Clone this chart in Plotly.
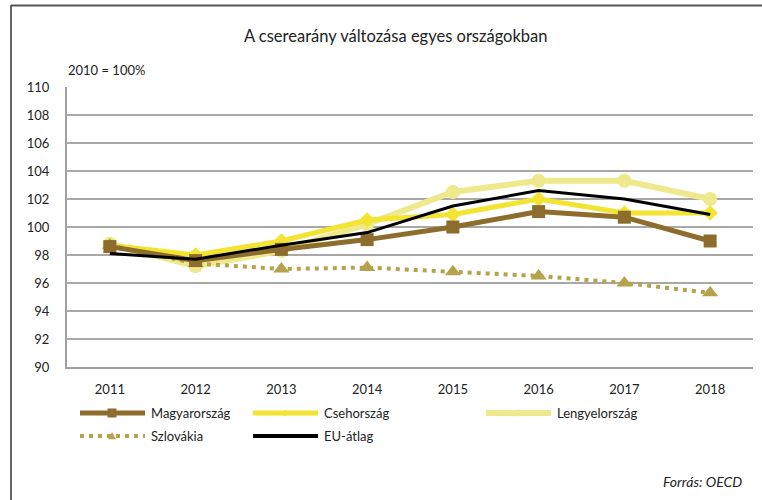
import plotly.graph_objects as go

# Terms-of-trade index by country, 2010 = 100%
years = ["2011", "2012", "2013", "2014", "2015", "2016", "2017", "2018"]
magyarorszag = [98.6, 97.6, 98.4, 99.1, 100.0, 101.1, 100.7, 99.0]
csehorszag = [98.7, 98.0, 99.0, 100.5, 100.9, 102.0, 101.0, 101.0]
lengyelorszag = [98.8, 97.2, 98.3, 100.2, 102.5, 103.3, 103.3, 102.0]
szlovakia = [98.7, 97.4, 97.0, 97.1, 96.8, 96.5, 96.0, 95.3]
eu_atlag = [98.1, 97.7, 98.7, 99.6, 101.5, 102.6, 102.0, 100.9]
y_ticks = [90, 92, 94, 96, 98, 100, 102, 104, 106, 108, 110]

FONT = "Lato"
BROWN = "#8c6d2c"
YELLOW = "#f2e431"
PALE = "#eee98c"
OLIVE = "#b6a24a"
BLACK = "#000000"

W, H = 762, 500
L, R, T, B = 67, 9, 87, 133

series = [
    dict(name="Lengyelország", y=lengyelorszag, color=PALE, width=6,
         dash="solid", symbol="circle", size=14),
    dict(name="Csehország", y=csehorszag, color=YELLOW, width=5,
         dash="solid", symbol="diamond", size=12),
    dict(name="Szlovákia", y=szlovakia, color=OLIVE, width=4,
         dash="4px,5px", symbol="triangle-up", size=14),
    dict(name="Magyarország", y=magyarorszag, color=BROWN, width=5,
         dash="solid", symbol="square", size=13),
    dict(name="EU-átlag", y=eu_atlag, color=BLACK, width=3,
         dash="solid", symbol=None, size=0),
]

fig = go.Figure()
for s in series:
    fig.add_trace(go.Scatter(
        x=years, y=s["y"], name=s["name"],
        mode="lines+markers" if s["symbol"] else "lines",
        line=dict(color=s["color"], width=s["width"], dash=s["dash"]),
        marker=dict(symbol=s["symbol"] or "circle", size=s["size"],
                    color=s["color"]),
        showlegend=False, cliponaxis=False,
    ))

pw = W - L - R
ph = H - T - B


def px_x(p):
    return (p - L) / pw


def px_y(p):
    return (H - B - p) / ph


def glyph_path(symbol, cx, cy, r):
    """SVG path (paper coords) for a small legend glyph centred at cx, cy px."""
    if symbol == "square":
        pts = [(cx - r, cy - r), (cx + r, cy - r), (cx + r, cy + r), (cx - r, cy + r)]
    elif symbol == "diamond":
        pts = [(cx, cy - r), (cx + r, cy), (cx, cy + r), (cx - r, cy)]
    elif symbol == "triangle-up":
        pts = [(cx, cy - r), (cx + r, cy + r * 0.8), (cx - r, cy + r * 0.8)]
    else:
        pts = []
    return "M " + " L ".join(f"{px_x(x)},{px_y(y)}" for x, y in pts) + " Z"


# Legend: sample line, centre glyph and label for each series
legend_items = [
    ("Magyarország", BROWN, 5, "solid", "square", 4.5, 80, 413),
    ("Csehország", YELLOW, 5, "solid", "diamond", 3.5, 253, 413),
    ("Lengyelország", PALE, 6, "solid", "circle", 3.5, 486, 413),
    ("Szlovákia", OLIVE, 4, "4px,5px", "triangle-up", 4, 80, 436),
    ("EU-átlag", BLACK, 4, "solid", None, 0, 253, 436),
]
for name, color, width, dash, symbol, r, x0, yy in legend_items:
    fig.add_shape(type="line", xref="paper", yref="paper",
                  x0=px_x(x0), x1=px_x(x0 + 65), y0=px_y(yy), y1=px_y(yy),
                  line=dict(color=color, width=width, dash=dash))
    cx = x0 + 32
    if symbol == "circle":
        fig.add_shape(type="circle", xref="paper", yref="paper",
                      x0=px_x(cx - r), x1=px_x(cx + r),
                      y0=px_y(yy - r), y1=px_y(yy + r),
                      fillcolor=color, line=dict(width=0))
    elif symbol:
        fig.add_shape(type="path", xref="paper", yref="paper",
                      path=glyph_path(symbol, cx, yy, r),
                      fillcolor=color, line=dict(width=0))
    fig.add_annotation(xref="paper", yref="paper", x=px_x(x0 + 69),
                       y=px_y(yy), text=name, showarrow=False,
                       xanchor="left", yanchor="middle",
                       font=dict(family=FONT, size=13, color="#222"))

# outer frame
fig.add_shape(type="line", xref="paper", yref="paper",
              x0=px_x(11), x1=px_x(11), y0=px_y(5), y1=px_y(505),
              line=dict(color="#333", width=1.5))
fig.add_shape(type="line", xref="paper", yref="paper",
              x0=px_x(11), x1=px_x(770), y0=px_y(5.5), y1=px_y(5.5),
              line=dict(color="#555", width=2))

fig.add_annotation(xref="paper", yref="paper", x=px_x(395), y=px_y(36),
                   text="A cserearány változása egyes országokban",
                   showarrow=False, xanchor="center", yanchor="middle",
                   font=dict(family=FONT, size=16.5, color="#222"))
fig.add_annotation(xref="paper", yref="paper", x=px_x(66), y=px_y(70),
                   text="2010 = 100%", showarrow=False,
                   xanchor="left", yanchor="middle",
                   font=dict(family=FONT, size=13, color="#222"))
fig.add_annotation(xref="paper", yref="paper", x=px_x(744), y=px_y(482),
                   text="<i>Forrás: OECD</i>", showarrow=False,
                   xanchor="right", yanchor="middle",
                   font=dict(family=FONT, size=14, color="#222"))

fig.update_layout(
    width=W, height=H,
    margin=dict(l=L, r=R, t=T, b=B),
    paper_bgcolor="white", plot_bgcolor="white",
    font=dict(family=FONT, size=13, color="#222"),
    xaxis=dict(type="category", range=[-0.5, 7.5], showgrid=False,
               showline=True, linecolor="#a0a0a0", linewidth=2,
               ticks="", ticklabelstandoff=9, tickfont=dict(size=13),
               fixedrange=True),
    yaxis=dict(range=[90, 110], tickvals=y_ticks, showgrid=True,
               gridcolor="#a8a8a8", gridwidth=1.5, zeroline=False,
               showline=True, linecolor="#a0a0a0", linewidth=2,
               ticks="", ticklabelstandoff=13, tickfont=dict(size=13),
               fixedrange=True),
    showlegend=False,
)

fig.write_html("out.html")
